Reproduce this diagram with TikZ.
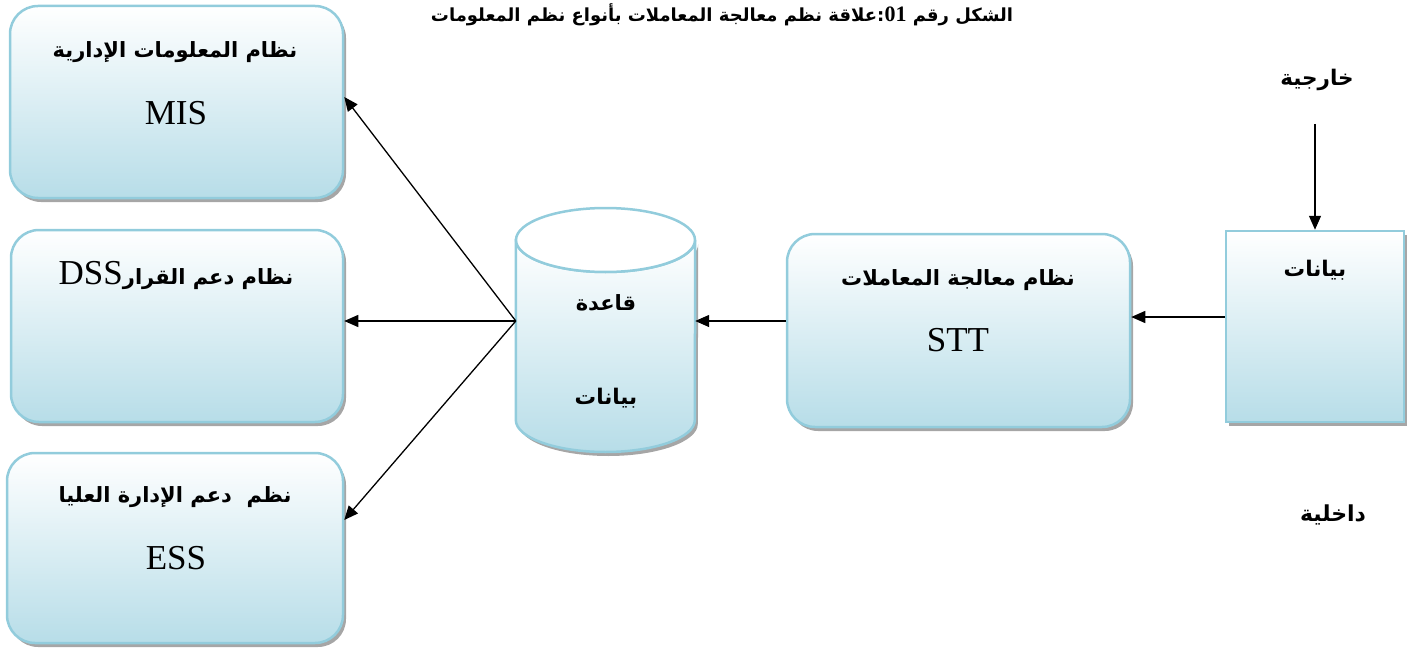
\documentclass[tikz,border=0pt]{standalone}
\usepackage{fontspec}
\usetikzlibrary{arrows.meta,shadows,calc}
\TeXXeTstate=1
\newfontfamily\arabicfont[Script=Arabic]{DejaVu Sans}
\newfontfamily\latinfont{Liberation Serif}
\definecolor{boxedge}{RGB}{146,204,220}
\definecolor{boxfill}{RGB}{183,221,232}
\newcommand{\arsize}[1]{\arabicfont\bfseries\fontsize{#1}{#1}\selectfont}
\newcommand{\acro}[1]{{\latinfont\mdseries\fontsize{35}{40}\selectfont #1}}

\begin{document}
\begin{tikzpicture}[x=1pt,y=-1pt,
  panel/.style={draw=boxedge, line width=2.5pt, rounded corners=28pt,
    top color=white, bottom color=boxfill, inner sep=0pt,
    drop shadow={shadow xshift=3pt, shadow yshift=-4pt, fill=gray!70, opacity=1}},
  flatpanel/.style={panel, rounded corners=0pt},
  label/.style={inner sep=0pt, anchor=center},
  arr/.style={line width=1.3pt, -{Triangle[length=14pt,width=12pt]}}]
\useasboundingbox (0,0) rectangle (1411,650);

% caption
\node[label] (title) at (722,15)
  {\arsize{18}\beginR الشكل رقم \beginL{\latinfont\bfseries\fontsize{22}{24}\selectfont 01}\endL:علاقة نظم معالجة المعاملات بأنواع نظم المعلومات\endR};

% information systems on the left
\node[panel, minimum width=333pt, minimum height=192pt] (mis) at (176.5,102) {};
\node[label] (mist) at (175,52) {\arsize{21}\beginR نظام المعلومات الإدارية\endR};
\node[label] (misa) at (176,113) {\acro{MIS}};

\node[panel, minimum width=332pt, minimum height=192pt] (dss) at (177,326) {};
\node[label] (dsst) at (176,275) {\arsize{21}\beginR نظام دعم القرار\beginL\acro{DSS}\endL\endR};

\node[panel, minimum width=336pt, minimum height=190pt] (ess) at (175,548) {};
\node[label] (esst) at (175,497) {\arsize{21}\beginR نظم\ \ دعم الإدارة العليا\endR};
\node[label] (essa) at (176,558) {\acro{ESS}};

% database cylinder
\node[minimum width=179pt, minimum height=226pt, inner sep=0pt] (db) at (605.5,321) {};
\path[draw=boxedge, line width=2.5pt, top color=white, bottom color=boxfill,
  drop shadow={shadow xshift=3pt, shadow yshift=-4pt, fill=gray!70, opacity=1}]
  (db.west |- 0,240) -- (db.west |- 0,420)
  arc[start angle=180, end angle=0, x radius=89.5, y radius=32]
  -- (db.east |- 0,240)
  arc[start angle=0, end angle=180, x radius=89.5, y radius=32] -- cycle;
\draw[boxedge, line width=2.5pt, fill=white] (db.center |- 0,240) ellipse[x radius=89.5, y radius=32];
\node[label] (db1) at (606,303) {\arsize{21}\beginR قاعدة\endR};
\node[label] (db2) at (606,398) {\arsize{21.5}\beginR بيانات\endR};

% transaction processing system
\node[panel, minimum width=343pt, minimum height=193pt] (stt) at (958.5,330.5) {};
\node[label] (sttt) at (958,280) {\arsize{21}\beginR نظام معالجة المعاملات\endR};
\node[label] (stta) at (958,340) {\acro{STT}};

% data source
\node[flatpanel, minimum width=178pt, minimum height=191pt] (data) at (1315,326.5) {};
\node[label] (datat) at (1315,270) {\arsize{21.5}\beginR بيانات\endR};
\node[label] (ext) at (1317,80) {\arsize{21.5}\beginR خارجية\endR};
\node[label] (int) at (1333,515) {\arsize{22}\beginR داخلية\endR};

% flows
\draw[arr] ([yshift=-33pt]ext.south -| data.north) -- (data.north);
\draw[arr] (data.west |- 0,317) -- (stt.east |- 0,317);
\draw[arr] (stt.west |- db.east) -- (db.east);
\draw[arr] (db.west) -- (mis.east |- 0,97);
\draw[arr] (db.west) -- (dss.east |- db.west);
\draw[arr] (db.west) -- (ess.east |- 0,520);
\end{tikzpicture}
\end{document}
